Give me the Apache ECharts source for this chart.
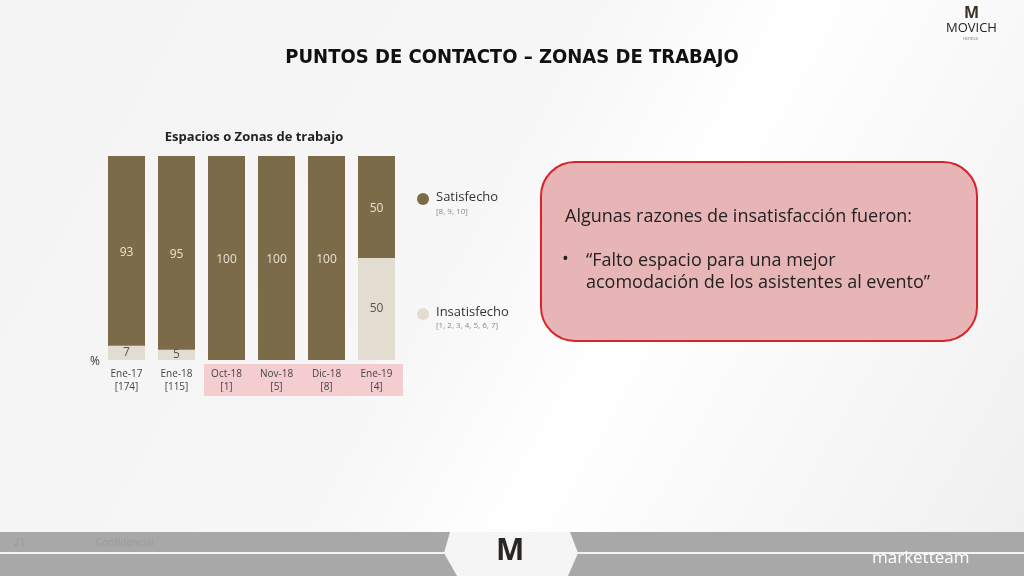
<!DOCTYPE html>
<html><head><meta charset="utf-8">
<script src="https://cdn.jsdelivr.net/npm/echarts@6/dist/echarts.min.js"></script>
<style>html,body{margin:0;padding:0;}#c{width:1024px;height:576px;}</style>
</head><body><div id="c"></div>
<script>
var categories = ['Ene-17', 'Ene-18', 'Oct-18', 'Nov-18', 'Dic-18', 'Ene-19'];
var sampleSizes = ['[174]', '[115]', '[1]', '[5]', '[8]', '[4]'];
var satisfecho = [93, 95, 100, 100, 100, 50];
var insatisfecho = [7, 5, 0, 0, 0, 50];
var seriesNames = ['Satisfecho', 'Insatisfecho'];
var seriesScales = ['[8, 9, 10]', '[1, 2, 3, 4, 5, 6, 7]'];

var C_SAT = '#7b6b49', C_INS = '#e3dcd1';
var chart = echarts.init(document.getElementById('c'), null, {renderer: 'canvas'});
var font = '"Open Sans", "DejaVu Sans", sans-serif';

chart.setOption({
  backgroundColor: {
    type: 'linear', x: 0, y: 0, x2: 1, y2: 1,
    colorStops: [{offset: 0, color: '#f3f3f4'}, {offset: 0.45, color: '#f7f7f8'}, {offset: 0.6, color: '#ffffff'}, {offset: 1, color: '#efeff0'}]
  },
  animation: false,
  title: [
    {text: 'PUNTOS DE CONTACTO – ZONAS DE TRABAJO', left: 507, top: 43, textAlign: 'center',
     textStyle: {fontFamily: '"Liberation Sans Narrow", "DejaVu Sans Condensed", sans-serif', fontWeight: 'bold', fontSize: 20, color: '#111'}},
    {text: 'Espacios o Zonas de trabajo', left: 249, top: 126, textAlign: 'center',
     textStyle: {fontFamily: font, fontWeight: 'bold', fontSize: 13, color: '#222'}}
  ],
  grid: {left: 101.5, right: 1024 - 401.5, top: 156, bottom: 576 - 360},
  xAxis: {
    type: 'category', data: categories,
    axisLine: {show: false}, axisTick: {show: false},
    axisLabel: {
      margin: 8, lineHeight: 13, fontSize: 10, color: '#444', fontFamily: font,
      formatter: function (v, i) { return v + '\n' + sampleSizes[i]; }
    }
  },
  yAxis: {type: 'value', min: 0, max: 100, show: false},
  series: [
    {name: seriesNames[1], type: 'bar', stack: 's', data: insatisfecho, barWidth: '74%',
     itemStyle: {color: C_INS},
     label: {show: true, position: 'inside', fontSize: 12, color: '#555', fontFamily: font,
       formatter: function (p) { return p.value > 0 ? p.value : ''; }}},
    {name: seriesNames[0], type: 'bar', stack: 's', data: satisfecho, barWidth: '74%',
     itemStyle: {color: C_SAT},
     label: {show: true, position: 'inside', fontSize: 12, color: '#e9e2d2', fontFamily: font, offset: [0, 2],
       formatter: function (p) { return p.value > 0 ? p.value : ''; }}}
  ],
  graphic: [
    {type: 'rect', z: -1, shape: {x: 204, y: 364, width: 199, height: 32}, style: {fill: '#f4cdd0'}},
    {type: 'text', left: 90, top: 356, style: {text: '%', fontSize: 12, fill: '#333', fontFamily: font}},
    {type: 'circle', shape: {cx: 423, cy: 199, r: 6}, style: {fill: C_SAT}},
    {type: 'text', left: 436, top: 191, style: {text: seriesNames[0], fontSize: 13, fill: '#333', fontFamily: font}},
    {type: 'text', left: 436, top: 208, style: {text: seriesScales[0], fontSize: 8, fill: '#888', fontFamily: font}},
    {type: 'circle', shape: {cx: 423, cy: 314, r: 6}, style: {fill: C_INS}},
    {type: 'text', left: 436, top: 306, style: {text: seriesNames[1], fontSize: 13, fill: '#333', fontFamily: font}},
    {type: 'text', left: 436, top: 322, style: {text: seriesScales[1], fontSize: 8, fill: '#888', fontFamily: font}},
    {type: 'rect', shape: {x: 541, y: 162, width: 436, height: 179, r: 34},
     style: {fill: '#e8b5b6', stroke: '#d8232a', lineWidth: 2}},
    {type: 'text', left: 565, top: 208, style: {text: 'Algunas razones de insatisfacción fueron:', fontSize: 18, fill: '#222', fontFamily: font}},
    {type: 'text', left: 562, top: 251, style: {text: '•', fontSize: 18, fill: '#222', fontFamily: font}},
    {type: 'text', left: 586, top: 250, style: {text: '“Falto espacio para una mejor\nacomodación de los asistentes al evento”', fontSize: 18, lineHeight: 22, fill: '#222', fontFamily: font}},
    {type: 'text', left: 964, top: 5, style: {text: 'M', fontSize: 16, fontWeight: 'bold', fill: '#3a3226', fontFamily: font}},
    {type: 'text', left: 946, top: 22, style: {text: 'MOVICH', fontSize: 13, fill: '#222', fontFamily: font}},
    {type: 'text', left: 963, top: 37, style: {text: 'HOTELS', fontSize: 4, fill: '#666', fontFamily: font}},
    {type: 'rect', shape: {x: 0, y: 532, width: 1024, height: 44}, style: {fill: '#a8a8a8'}},
    {type: 'rect', shape: {x: 0, y: 552, width: 1024, height: 2}, style: {fill: '#f2f2f2'}},
    {type: 'polygon', shape: {points: [[450, 532], [570, 532], [578, 553], [568, 576], [457, 576], [444, 553]]}, style: {fill: '#f5f5f5'}},
    {type: 'text', left: 496, top: 536, style: {text: 'M', fontSize: 30, fontWeight: 'bold', fill: '#2a2520', fontFamily: font}},
    {type: 'text', left: 14, top: 538, style: {text: '21', fontSize: 10, fill: '#9a9a9a', fontFamily: font}},
    {type: 'text', left: 96, top: 538, style: {text: 'Confidencial', fontSize: 10, fill: '#9a9a9a', fontFamily: font}},
    {type: 'text', left: 872, top: 550, style: {text: 'marketteam', fontSize: 17, fill: '#ffffff', fontFamily: font}}
  ]
});
</script></body></html>
